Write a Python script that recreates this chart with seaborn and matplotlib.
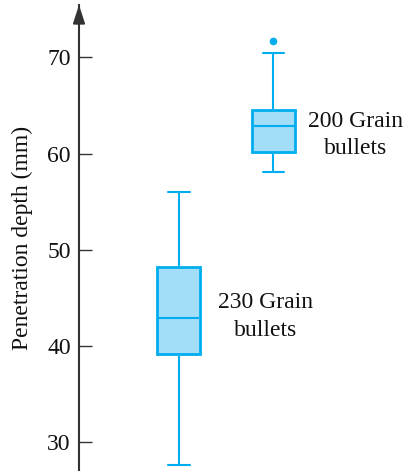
import matplotlib
matplotlib.use("Agg")
import matplotlib.pyplot as plt
import seaborn as sns
import pandas as pd

# ---- data ----
groups = ["230 Grain", "200 Grain"]
depth_230 = [27.6, 39.2, 42.9, 48.2, 56.0]
depth_200 = [58.1, 59.0, 60.2, 61.5, 62.9, 63.6, 64.5, 70.5, 71.7]
label_lines = {"230 Grain": ["230 Grain", "bullets"],
               "200 Grain": ["200 Grain", "bullets"]}
yticks = [30, 40, 50, 60, 70]
ylabel = "Penetration depth (mm)"

EDGE = "#00aeef"
FILL = "#a3ddf7"
AXC = "#333333"

sns.set_theme(style="white")
plt.rcParams["font.family"] = ["Liberation Serif", "DejaVu Serif"]

df = pd.DataFrame({
    "group": ["230 Grain"] * len(depth_230) + ["200 Grain"] * len(depth_200),
    "depth": depth_230 + depth_200,
})

fig = plt.figure(figsize=(4.04, 4.72), dpi=100)
ax = fig.add_axes([79 / 404, 2 / 472, 325 / 404, 465 / 472])

sns.boxplot(data=df, x="group", y="depth", order=groups, ax=ax,
            color=FILL, saturation=1, linecolor=EDGE, width=0.456,
            linewidth=1.5,
            boxprops=dict(linewidth=2.0),
            flierprops=dict(marker="o", markerfacecolor=EDGE,
                            markeredgecolor=EDGE, markersize=5.5,
                            markeredgewidth=0))

ax.set_xlim(-1.06, 2.386)
ax.set_ylim(27.12, 75.44)
ax.set_xticks([])
ax.set_xlabel("")
ax.set_yticks(yticks)
ax.set_yticklabels([str(t) for t in yticks])

for s in ["top", "right", "bottom"]:
    ax.spines[s].set_visible(False)
ax.spines["left"].set_color(AXC)
ax.spines["left"].set_linewidth(1.5)
ax.tick_params(axis="y", direction="in", length=9.6, width=1.0, color=AXC,
               pad=6.0, labelsize=17, labelcolor="#111111", left=True)

ax.set_ylabel(ylabel, fontsize=17, color="#111111")
ax.yaxis.set_label_coords(-0.1415, 0.5)

# arrow head at top of the axis
ax.annotate("", xy=(0, 1.0), xycoords="axes fraction",
            xytext=(0, 0.96), textcoords="axes fraction",
            arrowprops=dict(arrowstyle="-|>,head_length=0.55,head_width=0.18",
                            color=AXC, lw=1.5, mutation_scale=20,
                            shrinkA=0, shrinkB=0),
            annotation_clip=False)

# group labels
label_pos = {"230 Grain": (0.917, [43.94, 41.03]),
             "200 Grain": (1.875, [62.79, 59.95])}
for g in groups:
    x, ys = label_pos[g]
    for line, yy in zip(label_lines[g], ys):
        ax.text(x, yy, line, ha="center", va="baseline", fontsize=17,
                color="#111111")

fig.savefig("out.png", dpi=100)
